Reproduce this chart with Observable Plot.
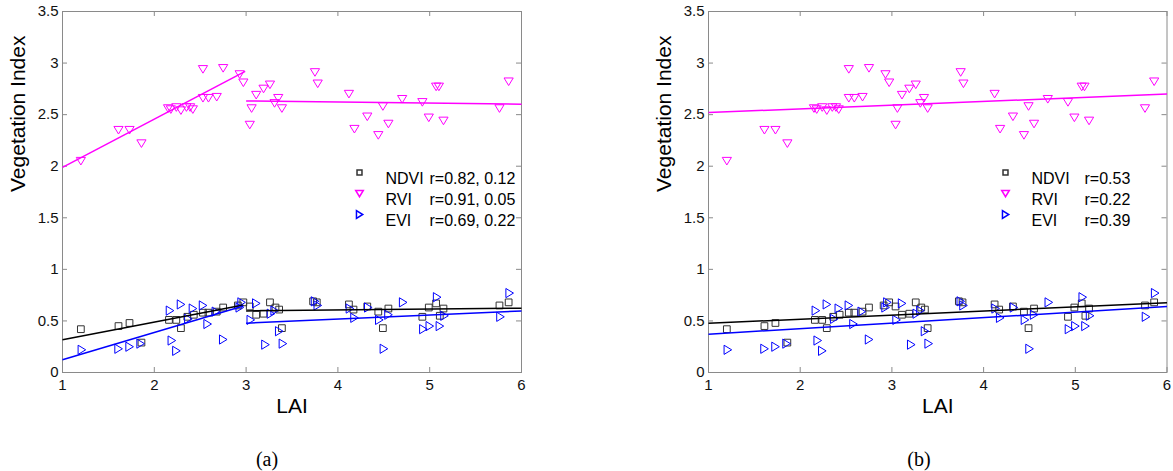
<!DOCTYPE html>
<html><head><meta charset="utf-8">
<script src="https://cdn.jsdelivr.net/npm/d3@7"></script>
<script src="https://cdn.jsdelivr.net/npm/@observablehq/plot@0.6"></script>
<style>
body{margin:0;background:#fff;}
#wrap{position:relative;width:1173px;height:471px;overflow:hidden;background:#fff;}
.panel{position:absolute;top:0;}
.cap{position:absolute;font-family:"Liberation Serif","Times New Roman",serif;font-size:20px;line-height:20px;color:#000;transform:translateX(-50%);white-space:nowrap;}
</style></head><body><div id="wrap"></div>
<script>
// ---- data ----
const seriesNames = ["NDVI", "RVI", "EVI"];
const seriesColors = ["#000000", "#ff00ff", "#0000ff"];
const markerColors = ["#333333", "#ff00ff", "#0000ff"];
const xTicks = [1, 2, 3, 4, 5, 6];
const yTicks = [0, 0.5, 1, 1.5, 2, 2.5, 3, 3.5];
const xLabel = "LAI";
const yLabel = "Vegetation Index";
const captions = ["(a)", "(b)"];
const rLabelsA = ["r=0.82, 0.12", "r=0.91, 0.05", "r=0.69, 0.22"];
const rLabelsB = ["r=0.53", "r=0.22", "r=0.39"];

const ndviLai = [1.20,1.61,1.73,1.86,2.16,2.24,2.29,2.36,2.43,2.53,2.59,2.68,2.75,2.91,2.97,3.04,3.11,3.19,3.26,3.32,3.36,3.39,3.73,3.77,4.12,4.17,4.32,4.44,4.49,4.55,4.92,4.99,5.07,5.11,5.15,5.76,5.86];
const ndviVal = [0.42,0.45,0.48,0.29,0.51,0.51,0.43,0.54,0.56,0.58,0.58,0.59,0.63,0.65,0.68,0.64,0.56,0.57,0.68,0.63,0.61,0.43,0.69,0.68,0.66,0.61,0.64,0.59,0.43,0.62,0.54,0.63,0.67,0.55,0.62,0.65,0.68];

const rviLai = [1.20,1.61,1.73,1.86,2.15,2.18,2.24,2.29,2.35,2.39,2.42,2.53,2.53,2.59,2.68,2.75,2.93,2.97,3.04,3.06,3.11,3.19,3.26,3.31,3.35,3.39,3.75,3.78,4.12,4.18,4.32,4.44,4.49,4.55,4.70,4.92,4.99,5.07,5.10,5.15,5.76,5.86];
const rviVal = [2.05,2.35,2.35,2.22,2.56,2.55,2.57,2.54,2.57,2.57,2.55,2.94,2.66,2.66,2.67,2.95,2.89,2.81,2.40,2.56,2.69,2.75,2.79,2.61,2.66,2.56,2.91,2.80,2.70,2.36,2.48,2.30,2.58,2.41,2.65,2.62,2.47,2.77,2.77,2.44,2.56,2.82];

const eviLai = [1.21,1.61,1.73,1.85,2.17,2.19,2.24,2.29,2.37,2.42,2.53,2.58,2.67,2.75,2.93,2.95,3.05,3.11,3.21,3.27,3.31,3.36,3.40,3.75,3.78,4.13,4.18,4.33,4.45,4.50,4.55,4.71,4.93,5.00,5.08,5.11,5.16,5.77,5.87];
const eviVal = [0.22,0.23,0.25,0.28,0.60,0.31,0.21,0.66,0.52,0.62,0.65,0.47,0.59,0.32,0.63,0.68,0.51,0.67,0.27,0.57,0.60,0.40,0.28,0.69,0.65,0.62,0.53,0.63,0.51,0.23,0.56,0.68,0.42,0.45,0.73,0.45,0.55,0.54,0.77];

// fitted lines: [series, x1, y1, x2, y2]
const fitsA = [
  ["NDVI", 1, 0.317, 2.97, 0.655], ["NDVI", 3.0, 0.597, 6, 0.623],
  ["RVI", 1, 1.988, 2.99, 2.92], ["RVI", 3.0, 2.633, 6, 2.601],
  ["EVI", 1, 0.123, 2.97, 0.645], ["EVI", 3.0, 0.478, 6, 0.597]
];
const fitsB = [
  ["NDVI", 1, 0.477, 6, 0.677],
  ["RVI", 1, 2.52, 6, 2.70],
  ["EVI", 1, 0.372, 6, 0.639]
];

// ---- build ----
const toPts = (xs, ys) => xs.map((x, i) => ({lai: x, v: ys[i]}));
const pts = [toPts(ndviLai, ndviVal), toPts(rviLai, rviVal), toPts(eviLai, eviVal)];
const toFits = f => f.map(([s, x1, y1, x2, y2]) => ({s, x1, y1, x2, y2}));

const triDown = {draw(ctx, size) { const r = Math.sqrt(size / Math.PI);
  ctx.moveTo(-r, -0.8 * r); ctx.lineTo(r, -0.8 * r); ctx.lineTo(0, 0.85 * r); ctx.closePath(); }};
const triRight = {draw(ctx, size) { const r = Math.sqrt(size / Math.PI);
  ctx.moveTo(-0.8 * r, -r); ctx.lineTo(0.85 * r, 0); ctx.lineTo(-0.8 * r, r); ctx.closePath(); }};
const symbols = ["square", triDown, triRight];
const radii = [3.8, 4.6, 4.6];
const legendRadii = [2.8, 3.8, 3.8];

function panel({fits, rLabels, width, marginLeft, marginRight, rDx}) {
  const height = 430, marginTop = 11, marginBottom = 58;
  const fh = height - marginTop - marginBottom;
  const fw = width - marginLeft - marginRight;
  const tk = 5, frameColor = "#8a8a8a";
  const fitData = toFits(fits);
  const marks = [
    Plot.tickX(xTicks, {x: d => d, insetTop: fh - tk, stroke: frameColor}),
    Plot.tickX(xTicks, {x: d => d, insetBottom: fh - tk, stroke: frameColor}),
    Plot.tickY(yTicks, {y: d => d, insetRight: fw - tk, stroke: frameColor}),
    Plot.tickY(yTicks, {y: d => d, insetLeft: fw - tk, stroke: frameColor}),
    Plot.frame({stroke: frameColor}),
    Plot.axisX(xTicks, {tickSize: 0, tickPadding: 7, fontSize: 15, fill: "#111", label: null}),
    Plot.axisY(yTicks, {tickSize: 0, tickPadding: 4, fontSize: 15, fill: "#111", tickFormat: d => String(d), label: null}),
    Plot.text([xLabel], {text: d => d, frameAnchor: "bottom", dy: 40, fontSize: 21, fill: "#000"}),
    Plot.text([yLabel], {text: d => d, frameAnchor: "left", dx: -44, rotate: -90, fontSize: 21, fill: "#000"})
  ];
  seriesNames.forEach((s, i) => {
    marks.push(Plot.dot(pts[i], {x: "lai", y: "v", symbol: symbols[i], r: radii[i], stroke: markerColors[i], strokeWidth: 1, fill: "none"}));
  });
  seriesNames.forEach((s, i) => {
    marks.push(Plot.link(fitData.filter(d => d.s === s), {x1: "x1", y1: "y1", x2: "x2", y2: "y2", stroke: seriesColors[i], strokeWidth: 1.5}));
  });
  seriesNames.forEach((s, i) => {
    const dy = 161 + 21 * i;
    marks.push(Plot.dot([0], {frameAnchor: "top-left", dx: 297, dy, symbol: symbols[i], r: legendRadii[i], stroke: markerColors[i], fill: "none"}));
    marks.push(Plot.text([s], {text: d => d, frameAnchor: "top-left", dx: 323, dy, textAnchor: "start", fontSize: 16, fill: "#000"}));
    marks.push(Plot.text([rLabels[i]], {text: d => d, frameAnchor: "top-left", dx: rDx, dy, textAnchor: "start", fontSize: 16, fill: "#000"}));
  });
  return Plot.plot({
    width, height, marginTop, marginBottom, marginLeft, marginRight,
    x: {domain: [1, 6]}, y: {domain: [0, 3.5]},
    style: {fontFamily: "'Liberation Sans', Arial, sans-serif", background: "#fff", overflow: "visible"},
    marks
  });
}

const wrap = document.getElementById("wrap");
const confs = [
  {left: 0, fits: fitsA, rLabels: rLabelsA, width: 586, marginLeft: 62, marginRight: 65, rDx: 367, cap: 267},
  {left: 646, fits: fitsB, rLabels: rLabelsB, width: 527, marginLeft: 62, marginRight: 6.5, rDx: 376, cap: 919}
];
confs.forEach((c, k) => {
  const d = document.createElement("div");
  d.className = "panel"; d.style.left = c.left + "px";
  d.appendChild(panel(c));
  wrap.appendChild(d);
  const cap = document.createElement("div");
  cap.className = "cap"; cap.style.left = c.cap + "px"; cap.style.top = "449px";
  cap.textContent = captions[k];
  wrap.appendChild(cap);
});
</script></body></html>
